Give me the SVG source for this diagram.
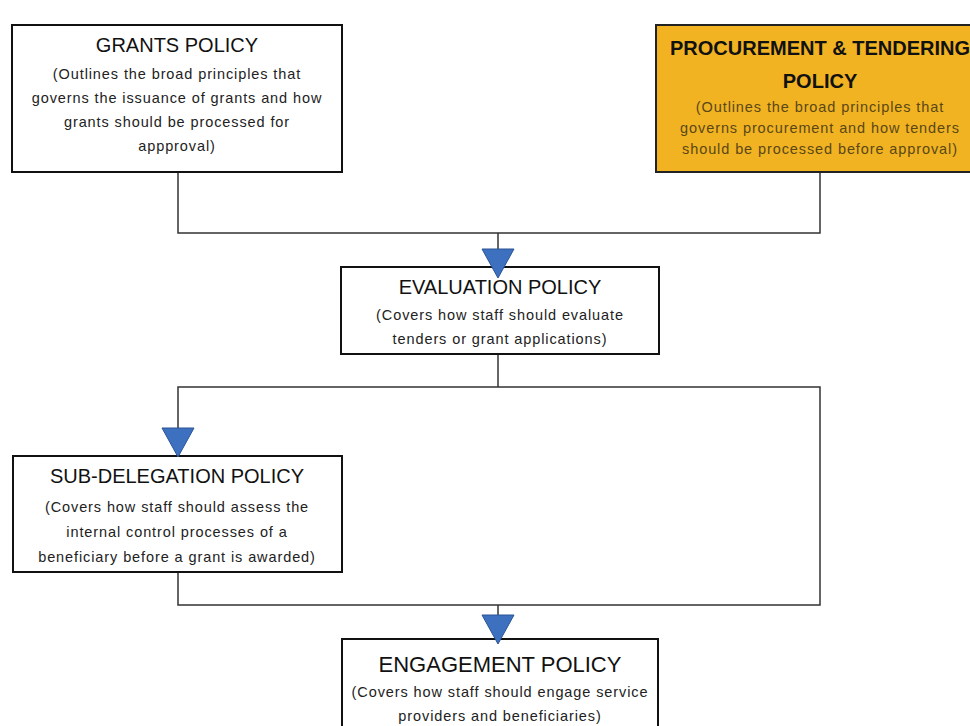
<svg xmlns="http://www.w3.org/2000/svg" xmlns:xlink="http://www.w3.org/1999/xlink" width="970" height="726" viewBox="0 0 970 726">
<style>
.box{fill:#fff;stroke:#111;stroke-width:2}
.proc{fill:#F1B322;stroke:#222;stroke-width:2}
.ttl{font-family:"Liberation Sans",Arial,sans-serif;font-size:20px;fill:#111;text-anchor:middle}
.sub{font-family:"Liberation Sans",Arial,sans-serif;font-size:14.5px;fill:#222;text-anchor:middle;letter-spacing:0.9px}
.psub{fill:#5a4716}
.conn{fill:none;stroke:#333;stroke-width:1.5}
.arr{fill:#3d70bf;stroke:#2a5597;stroke-width:1}
</style>
<defs>
<path id="arrow" class="arr" d="M-16,0 L16,0 L0,29 Z"/>
</defs>
<rect width="970" height="726" fill="#fff"/>
<g id="connectors">
<path class="conn" d="M178,172 V233 H820 V172"/>
<path class="conn" d="M498,233 V262"/>
<path class="conn" d="M498,354 V387"/>
<path class="conn" d="M178,450 V387 H820 V605 H178 V572"/>
<path class="conn" d="M498,605 V634"/>
</g>
<g id="grants">
<rect class="box" x="12" y="25" width="330" height="147"/>
<text class="ttl" x="177" y="52">GRANTS POLICY</text>
<text class="sub" x="177" y="79">(Outlines the broad principles that</text>
<text class="sub" x="177" y="103">governs the issuance of grants and how</text>
<text class="sub" x="177" y="127">grants should be processed for</text>
<text class="sub" x="177" y="151">appproval)</text>
</g>
<g id="procurement">
<rect class="proc" x="656" y="25" width="330" height="147"/>
<text class="ttl" x="820" y="55" font-weight="bold">PROCUREMENT &amp; TENDERING</text>
<text class="ttl" x="820" y="88" font-weight="bold">POLICY</text>
<text class="sub psub" x="820" y="112">(Outlines the broad principles that</text>
<text class="sub psub" x="820" y="133">governs procurement and how tenders</text>
<text class="sub psub" x="820" y="154">should be processed before approval)</text>
</g>
<g id="evaluation">
<rect class="box" x="341" y="267" width="318" height="87"/>
<text class="ttl" x="500" y="294">EVALUATION POLICY</text>
<text class="sub" x="500" y="320">(Covers how staff should evaluate</text>
<text class="sub" x="500" y="344">tenders or grant applications)</text>
</g>
<g id="subdelegation">
<rect class="box" x="13" y="456" width="329" height="116"/>
<text class="ttl" x="177" y="483">SUB-DELEGATION POLICY</text>
<text class="sub" x="177" y="512">(Covers how staff should assess the</text>
<text class="sub" x="177" y="537">internal control processes of a</text>
<text class="sub" x="177" y="562">beneficiary before a grant is awarded)</text>
</g>
<g id="engagement">
<rect class="box" x="342" y="639" width="316" height="110"/>
<text class="ttl" x="500" y="672" font-size="22px" style="font-size:22px">ENGAGEMENT POLICY</text>
<text class="sub" x="500" y="697">(Covers how staff should engage service</text>
<text class="sub" x="500" y="721">providers and beneficiaries)</text>
</g>
<g id="arrowheads">
<use xlink:href="#arrow" x="498" y="249"/>
<use xlink:href="#arrow" x="178" y="428"/>
<use xlink:href="#arrow" x="498" y="615"/>
</g>
</svg>
